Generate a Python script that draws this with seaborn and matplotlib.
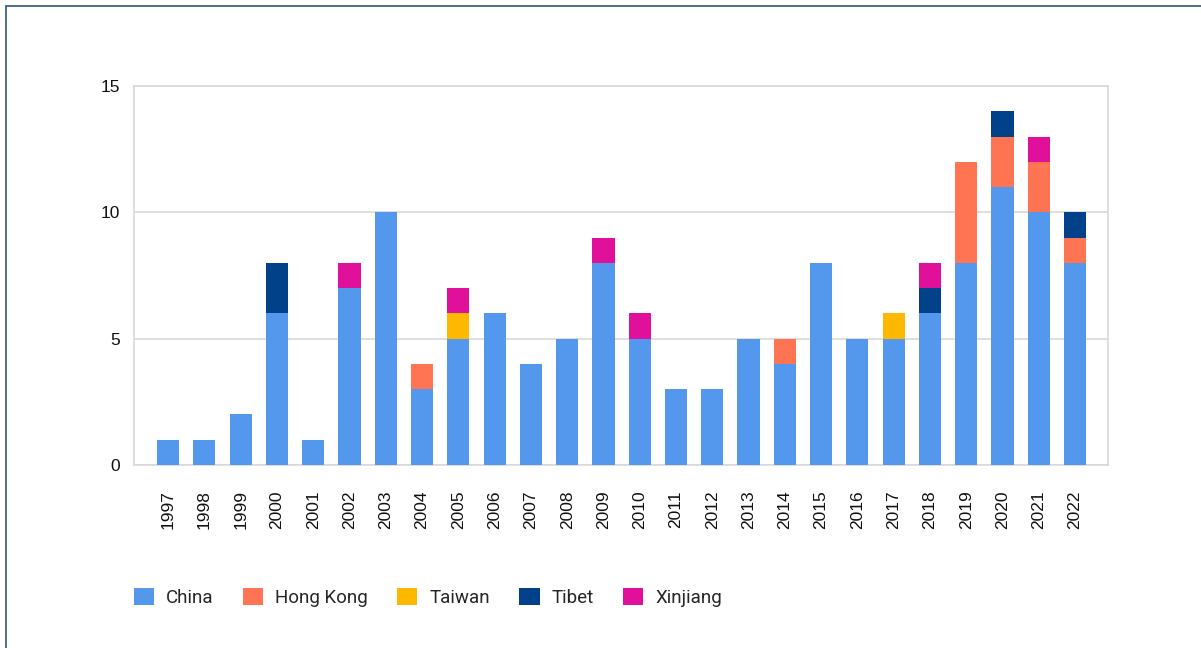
import numpy as np
import pandas as pd
import matplotlib
matplotlib.use("Agg")
import matplotlib.pyplot as plt
from matplotlib.patches import Patch, Rectangle
import seaborn as sns

years = [str(y) for y in range(1997, 2023)]
china     = [1, 1, 2, 6, 1, 7, 10, 3, 5, 6, 4, 5, 8, 5, 3, 3, 5, 4, 8, 5, 5, 6, 8, 11, 10, 8]
hong_kong = [0, 0, 0, 0, 0, 0, 0, 1, 0, 0, 0, 0, 0, 0, 0, 0, 0, 1, 0, 0, 0, 0, 4, 2, 2, 1]
taiwan    = [0, 0, 0, 0, 0, 0, 0, 0, 1, 0, 0, 0, 0, 0, 0, 0, 0, 0, 0, 0, 1, 0, 0, 0, 0, 0]
tibet     = [0, 0, 0, 2, 0, 0, 0, 0, 0, 0, 0, 0, 0, 0, 0, 0, 0, 0, 0, 0, 0, 1, 0, 1, 0, 1]
xinjiang  = [0, 0, 0, 0, 0, 1, 0, 0, 1, 0, 0, 0, 1, 1, 0, 0, 0, 0, 0, 0, 0, 1, 0, 0, 1, 0]

series_names = ["China", "Hong Kong", "Taiwan", "Tibet", "Xinjiang"]
series_vals = [china, hong_kong, taiwan, tibet, xinjiang]
colors = ["#5398EC", "#FF7452", "#FFB800", "#00418A", "#E0109A"]

df = pd.DataFrame(dict(zip(series_names, series_vals)), index=years)
cum = df.cumsum(axis=1)

sns.set_theme(style="white")
plt.rcParams["font.family"] = ["Liberation Sans", "DejaVu Sans"]

fig = plt.figure(figsize=(12.01, 6.48), dpi=100)
ax = fig.add_axes([0.1116, 0.2824, 0.9226 - 0.1116, 0.8673 - 0.2824])

# stacked bars: draw cumulative totals from the top series down
for name, color in reversed(list(zip(series_names, colors))):
    sns.barplot(x=years, y=cum[name].values, color=color, width=0.61,
                saturation=1, ax=ax, zorder=3, linewidth=0)

ax.set_xlim(-0.94, 25.91)
ax.set_ylim(0, 15)
ax.set_yticks([0, 5, 10, 15])
ax.yaxis.grid(True, color="#d9d9d9", linewidth=1.2, zorder=0)
ax.xaxis.grid(False)
for s in ax.spines.values():
    s.set_color("#d9d9d9")
    s.set_linewidth(1.2)
ax.tick_params(axis="y", length=0, pad=10, labelsize=12.5, labelcolor="#111111")
ax.tick_params(axis="x", length=0, pad=18, labelsize=12.5, labelcolor="#111111",
               labelrotation=90)
ax.set_xlabel("")
ax.set_ylabel("")

handles = [Patch(facecolor=c, edgecolor="none", label=n) for n, c in zip(series_names, colors)]
fig.legend(handles=handles, loc="center left", bbox_to_anchor=(0.0975, 0.078),
           ncol=5, frameon=False, handlelength=1.07, handleheight=1.07,
           handletextpad=0.64, columnspacing=1.57,
           prop={"family": ["Roboto", "DejaVu Sans"], "size": 13.5})

# outer frame of the figure
fig.patches.append(Rectangle((6 / 1201, -0.1), 1.2, 1.1 - 6 / 648,
                             transform=fig.transFigure, fill=False,
                             edgecolor="#2F5283", linewidth=1.2))

fig.savefig("out.png", dpi=100)
